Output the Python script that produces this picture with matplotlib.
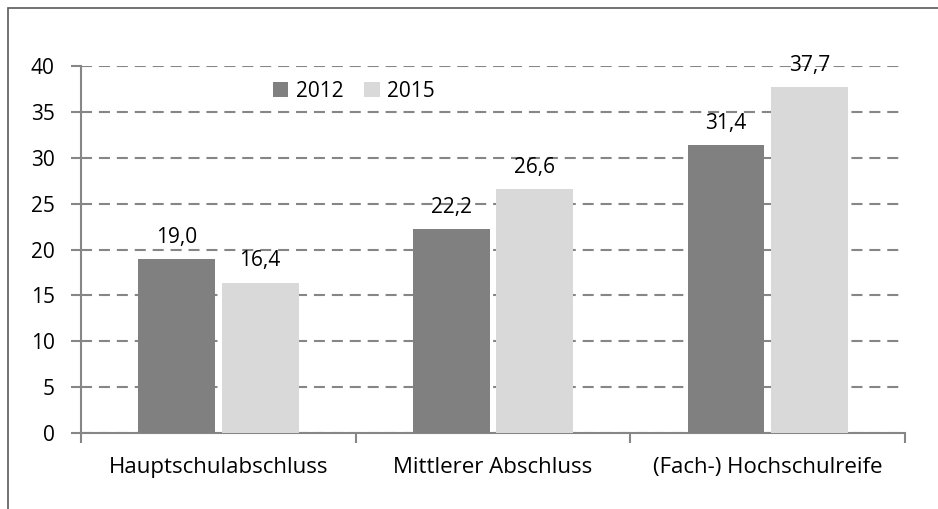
import matplotlib.pyplot as plt
import numpy as np
from matplotlib.patches import Rectangle

# Daten
kategorien = ['Hauptschulabschluss', 'Mittlerer Abschluss', '(Fach-) Hochschulreife']
werte_2012 = [19.0, 22.2, 31.4]
werte_2015 = [16.4, 26.6, 37.7]
jahre = ['2012', '2015']

plt.rcParams['font.family'] = ['Open Sans', 'DejaVu Sans']

fig = plt.figure(figsize=(9.38, 5.09), dpi=100)
ax = fig.add_axes([0.0864, 0.1493, 0.8785, 0.721])

x = np.arange(len(kategorien))
breite = 0.28
b1 = ax.bar(x - 0.152, werte_2012, breite, color='#808080', label=jahre[0], zorder=3)
b2 = ax.bar(x + 0.152, werte_2015, breite, color='#d9d9d9', label=jahre[1], zorder=3)

# Werte über den Balken
for balken in (b1, b2):
    for r in balken:
        h = r.get_height()
        ax.text(r.get_x() + r.get_width() / 2, h + 1.75, f'{h:.1f}'.replace('.', ','),
                ha='center', va='baseline', fontsize=15, zorder=4)

ax.set_xlim(-0.5, 2.5)
ax.set_ylim(0, 40)
ax.set_yticks(range(0, 41, 5))
ax.set_xticks([-0.5, 0.5, 1.5, 2.5])
ax.set_xticklabels([])
ax.set_xticks(x, minor=True)
ax.set_xticklabels(kategorien, minor=True, fontsize=16)
ax.tick_params(axis='x', which='minor', length=0, pad=17)
ax.tick_params(axis='x', which='major', length=7, width=1.5, color='#868686', direction='out')
ax.tick_params(axis='y', length=7, width=1.5, color='#868686', labelsize=15, pad=12)

ax.yaxis.grid(True, linestyle=(0, (5.3, 3.3)), color='#868686', linewidth=1.5, zorder=0)
for s in ['top', 'right']:
    ax.spines[s].set_visible(False)
for s in ['left', 'bottom']:
    ax.spines[s].set_color('#868686')
    ax.spines[s].set_linewidth(1.5)

ax.legend(loc='upper left', bbox_to_anchor=(0.21, 1.01), ncol=2, frameon=False,
          fontsize=15, handlelength=0.75, handleheight=0.75, handletextpad=0.35,
          columnspacing=1.0)

# Rahmen
fig.patches.append(Rectangle((8 / 938, -0.1), 1.2, 1.1 - 8 / 509, transform=fig.transFigure,
                             fill=False, edgecolor='#5a5a5a', linewidth=1.2))

fig.savefig('out.png', dpi=100)
